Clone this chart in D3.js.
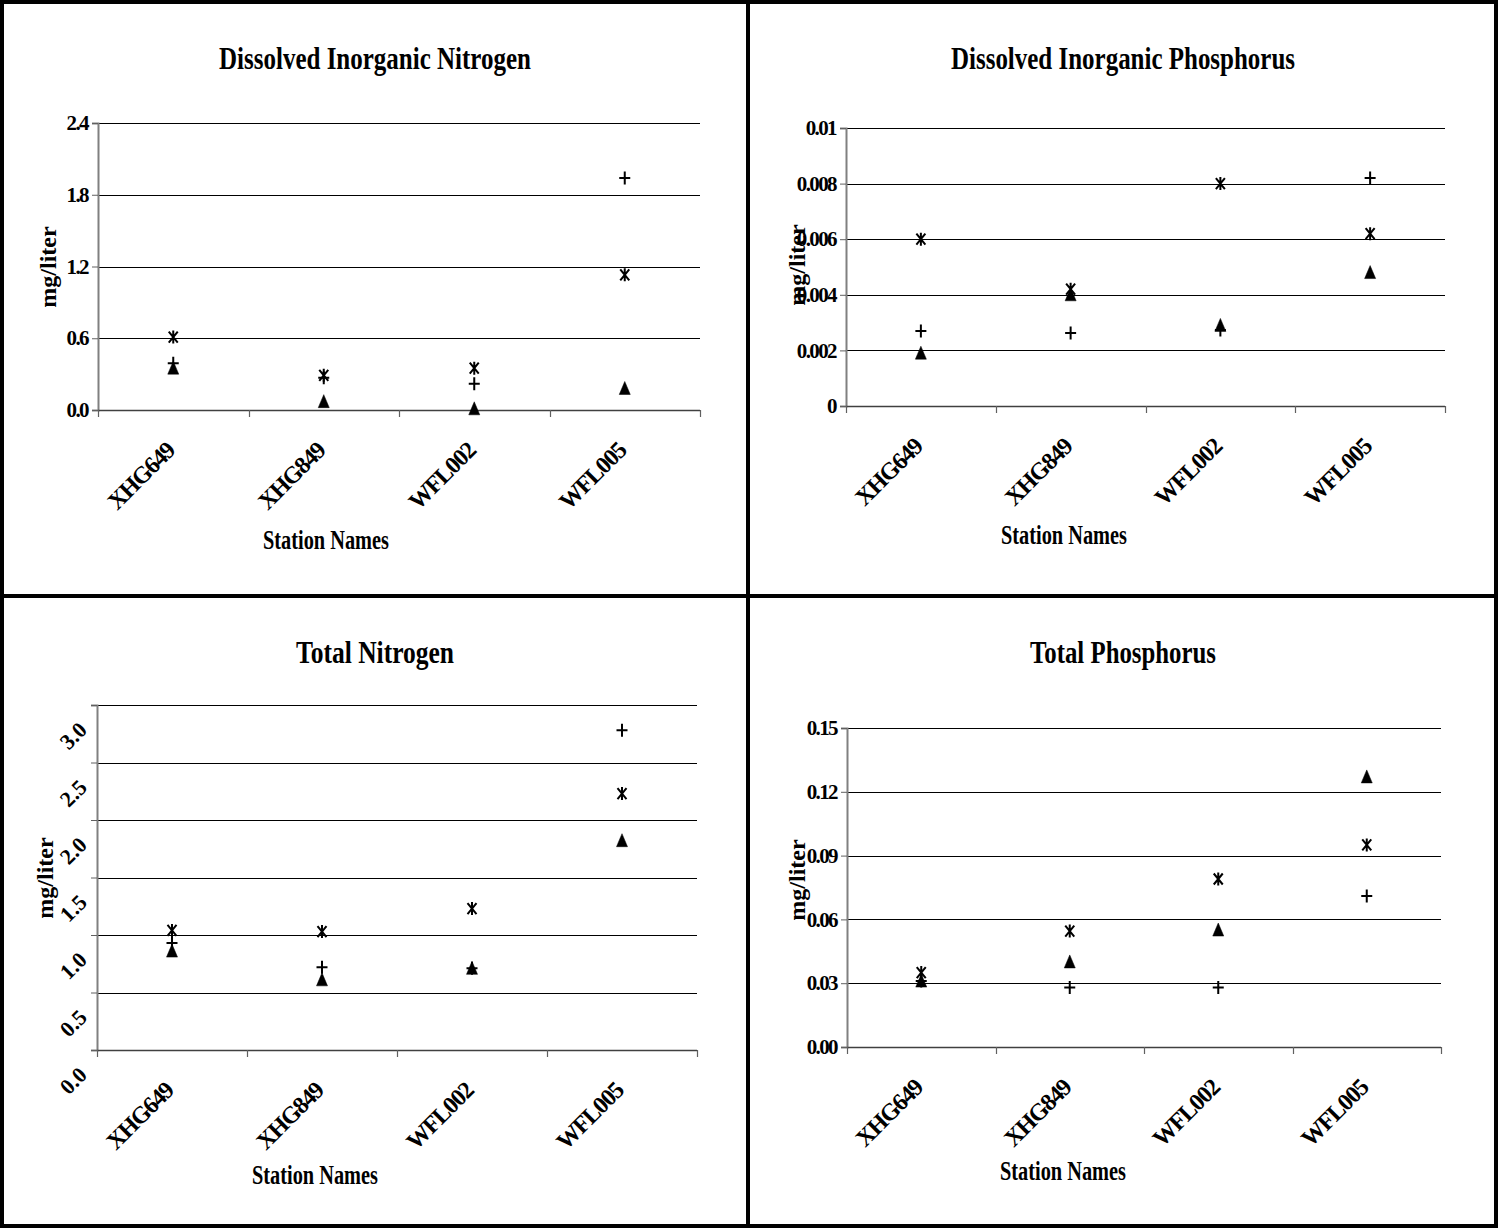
<!DOCTYPE html>
<html><head><meta charset="utf-8">
<script src="https://cdn.jsdelivr.net/npm/d3@7"></script>
<style>
body{margin:0;background:#fff}
svg{display:block}
text{font-family:"Liberation Serif","Times New Roman",serif;font-weight:bold;fill:#000}
</style>
</head><body><svg id="c" width="1498" height="1228"></svg>
<script>
// ---- data ----
const stations = ["XHG649", "XHG849", "WFL002", "WFL005"];

const dinPlus = [0.39, 0.27, 0.22, 1.94];
const dinStar = [0.61, 0.29, 0.35, 1.13];
const dinTri  = [0.35, 0.07, 0.01, 0.18];
const dinTicks = [0, 0.6, 1.2, 1.8, 2.4];
const dinLabels = ["0.0", "0.6", "1.2", "1.8", "2.4"];

const dipPlus = [0.0027, 0.00263, 0.00273, 0.0082];
const dipStar = [0.0060, 0.0042, 0.0080, 0.0062];
const dipTri  = [0.0019, 0.0040, 0.0029, 0.0048];
const dipTicks = [0, 0.002, 0.004, 0.006, 0.008, 0.01];
const dipLabels = ["0", "0.002", "0.004", "0.006", "0.008", "0.01"];

const tnPlus = [0.93, 0.72, 0.71, 2.78];
const tnStar = [1.04, 1.03, 1.23, 2.23];
const tnTri  = [0.86, 0.61, 0.71, 1.82];
const tnTicks = [0, 0.5, 1.0, 1.5, 2.0, 2.5, 3.0];
const tnLabels = ["0.0", "0.5", "1.0", "1.5", "2.0", "2.5", "3.0"];

const tpPlus = [0.031, 0.028, 0.028, 0.071];
const tpStar = [0.035, 0.0545, 0.079, 0.095];
const tpTri  = [0.031, 0.040, 0.055, 0.127];
const tpTicks = [0, 0.03, 0.06, 0.09, 0.12, 0.15];
const tpLabels = ["0.00", "0.03", "0.06", "0.09", "0.12", "0.15"];

const titles = ["Dissolved Inorganic Nitrogen", "Dissolved Inorganic Phosphorus", "Total Nitrogen", "Total Phosphorus"];
const xTitle = "Station Names";
const yTitle = "mg/liter";

// ---- layout ----
const panels = [
  {title: titles[0], plus: dinPlus, star: dinStar, tri: dinTri, ticks: dinTicks, labels: dinLabels,
   x0: 98, x1: 700, yTop: 123, yBot: 410, titleX: 375, titleY: 69, titleW: 312,
   xtX: 326, xtY: 549, ytX: 48, ytY: 267, rot: false},
  {title: titles[1], plus: dipPlus, star: dipStar, tri: dipTri, ticks: dipTicks, labels: dipLabels,
   x0: 846, x1: 1445, yTop: 128, yBot: 406, titleX: 1123, titleY: 69, titleW: 344,
   xtX: 1064, xtY: 544, ytX: 797, ytY: 265, rot: false},
  {title: titles[2], plus: tnPlus, star: tnStar, tri: tnTri, ticks: tnTicks, labels: tnLabels,
   x0: 97, x1: 697, yTop: 705, yBot: 1050, titleX: 375, titleY: 663, titleW: 158,
   xtX: 315, xtY: 1184, ytX: 45, ytY: 878, rot: true},
  {title: titles[3], plus: tpPlus, star: tpStar, tri: tpTri, ticks: tpTicks, labels: tpLabels,
   x0: 847, x1: 1441, yTop: 728, yBot: 1047, titleX: 1123, titleY: 663, titleW: 186,
   xtX: 1063, xtY: 1180, ytX: 797, ytY: 880, rot: false}
];

const svg = d3.select("#c");
svg.append("rect").attr("width", 1498).attr("height", 1228).attr("fill", "#fff");

const shapes = {
  plus: "M-5.5,0H5.5M0,-6.5V6.5",
  star: "M-4.5,-5.5L4.5,5.5M4.5,-5.5L-4.5,5.5M0,-6.5V6.5",
  tri: "M0,-7L5.5,6H-5.5Z"
};

panels.forEach(p => {
  const g = svg.append("g");
  const x = d3.scaleBand().domain(stations).range([p.x0, p.x1]);
  const y = d3.scaleLinear().domain([0, d3.max(p.ticks)]).range([p.yBot, p.yTop]);

  // gridlines
  g.selectAll("line.grid").data(p.ticks.filter(t => t > 0)).join("line")
    .attr("x1", p.x0).attr("x2", p.x1)
    .attr("y1", d => Math.round(y(d)) + 0.5).attr("y2", d => Math.round(y(d)) + 0.5)
    .attr("stroke", "#000").attr("stroke-width", 1.2);

  // y axis
  const ya = d3.axisLeft(y).tickValues(p.ticks).tickSize(6).tickPadding(4)
    .tickFormat((d, i) => p.labels[i]);
  const yg = g.append("g").attr("transform", `translate(${p.x0},0)`).call(ya);
  yg.select(".domain").attr("stroke", "#808080").attr("stroke-width", 2);
  yg.selectAll(".tick line").attr("stroke", "#606060");
  yg.selectAll(".tick text").attr("font-size", 21).attr("letter-spacing", "-1.6px");
  if (p.rot) {
    yg.selectAll(".tick text")
      .attr("text-anchor", "middle").attr("x", null).attr("dy", "0.35em")
      .attr("font-size", 22).attr("letter-spacing", null)
      .attr("transform", "translate(-24,30) rotate(-45)");
  }

  // x axis
  const bounds = stations.map(s => x(s)).concat([p.x1]);
  g.append("line").attr("x1", p.x0).attr("x2", p.x1)
    .attr("y1", Math.round(p.yBot) + 0.5).attr("y2", Math.round(p.yBot) + 0.5)
    .attr("stroke", "#404040").attr("stroke-width", 1.5);
  g.selectAll("line.xt").data(bounds).join("line")
    .attr("x1", d => Math.round(d) + 0.5).attr("x2", d => Math.round(d) + 0.5)
    .attr("y1", p.yBot).attr("y2", p.yBot + 7)
    .attr("stroke", "#606060").attr("stroke-width", 1.2);
  g.selectAll("text.xl").data(stations).join("text")
    .attr("text-anchor", "end").attr("font-size", 24).attr("letter-spacing", "-1.2px")
    .attr("transform", d => `translate(${x(d) + x.bandwidth() / 2 + 3},${p.yBot + 42}) rotate(-45)`)
    .text(d => d);

  // markers
  const series = [["plus", p.plus], ["star", p.star], ["tri", p.tri]];
  series.forEach(([k, vals]) => {
    g.selectAll(null).data(vals).join("path")
      .attr("d", shapes[k])
      .attr("transform", (d, i) => `translate(${x(stations[i]) + x.bandwidth() / 2},${y(d)})`)
      .attr("fill", k === "tri" ? "#000" : "none")
      .attr("stroke", "#000")
      .attr("stroke-width", k === "tri" ? 0.5 : 2);
  });

  // titles
  g.append("text").attr("x", p.titleX).attr("y", p.titleY).attr("text-anchor", "middle")
    .attr("font-size", 32).attr("textLength", p.titleW).attr("lengthAdjust", "spacingAndGlyphs")
    .text(p.title);
  g.append("text").attr("x", p.xtX).attr("y", p.xtY).attr("text-anchor", "middle")
    .attr("font-size", 27).attr("textLength", 126).attr("lengthAdjust", "spacingAndGlyphs")
    .text(xTitle);
  g.append("text").attr("text-anchor", "middle").attr("font-size", 24).attr("dy", "0.35em")
    .attr("transform", `translate(${p.ytX},${p.ytY}) rotate(-90)`)
    .text(yTitle);
});

// frame
svg.append("rect").attr("x", 2).attr("y", 2).attr("width", 1494).attr("height", 1224)
  .attr("fill", "none").attr("stroke", "#000").attr("stroke-width", 4);
svg.append("line").attr("x1", 748).attr("x2", 748).attr("y1", 0).attr("y2", 1228)
  .attr("stroke", "#000").attr("stroke-width", 4);
svg.append("line").attr("x1", 0).attr("x2", 1498).attr("y1", 596).attr("y2", 596)
  .attr("stroke", "#000").attr("stroke-width", 4);
</script></body></html>
